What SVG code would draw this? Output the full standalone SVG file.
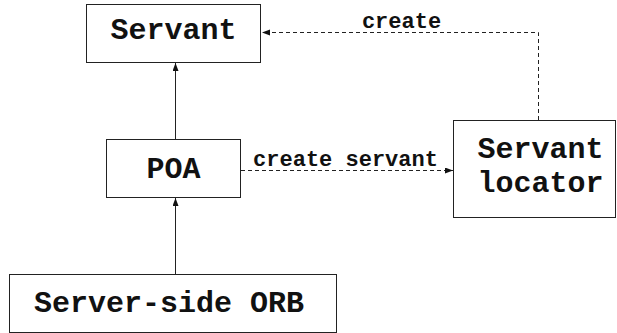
<svg xmlns="http://www.w3.org/2000/svg" width="617" height="333" viewBox="0 0 617 333">
  <style>
    .box { fill: #ffffff; stroke: #222222; stroke-width: 1; }
    .node-text { font-family: "Liberation Mono", "Courier New", monospace; font-weight: bold; font-size: 30px; fill: #111111; text-anchor: middle; }
    .label { font-family: "Liberation Mono", "Courier New", monospace; font-weight: bold; font-size: 22px; fill: #111111; text-anchor: middle; }
    .edge { fill: none; stroke: #222222; stroke-width: 1; }
    .dashed { stroke-dasharray: 4 3; }
  </style>
  <defs>
    <marker id="arrow" markerUnits="userSpaceOnUse" markerWidth="9" markerHeight="7" refX="8" refY="3" orient="auto">
      <path d="M0,0 L8,3 L0,6 z" fill="#111111"/>
    </marker>
  </defs>
  <rect width="617" height="333" fill="#ffffff"/>

  <g id="connectors">
    <line class="edge" x1="175.5" y1="274" x2="175.5" y2="198" marker-end="url(#arrow)"/>
    <line class="edge" x1="175.5" y1="139" x2="175.5" y2="63" marker-end="url(#arrow)"/>
    <line class="edge dashed" x1="241" y1="170.5" x2="453" y2="170.5" marker-end="url(#arrow)"/>
    <path class="edge dashed" d="M538.5,120 V32.5 H262" marker-end="url(#arrow)"/>
    <text class="label" x="345.5" y="166">create servant</text>
    <text class="label" x="401.5" y="27.5">create</text>
  </g>

  <g id="servant">
    <rect class="box" x="86.5" y="4.5" width="174" height="58"/>
    <text class="node-text" x="173.5" y="39">Servant</text>
  </g>

  <g id="poa">
    <rect class="box" x="106.5" y="139.5" width="134" height="58"/>
    <text class="node-text" x="173.5" y="178">POA</text>
  </g>

  <g id="servant-locator">
    <rect class="box" x="453.5" y="120.5" width="162" height="97"/>
    <text class="node-text" x="540.5" y="158">Servant</text>
    <text class="node-text" x="540.5" y="192">locator</text>
  </g>

  <g id="server-side-orb">
    <rect class="box" x="9.5" y="274.5" width="327" height="58"/>
    <text class="node-text" x="169" y="312">Server-side ORB</text>
  </g>
</svg>
